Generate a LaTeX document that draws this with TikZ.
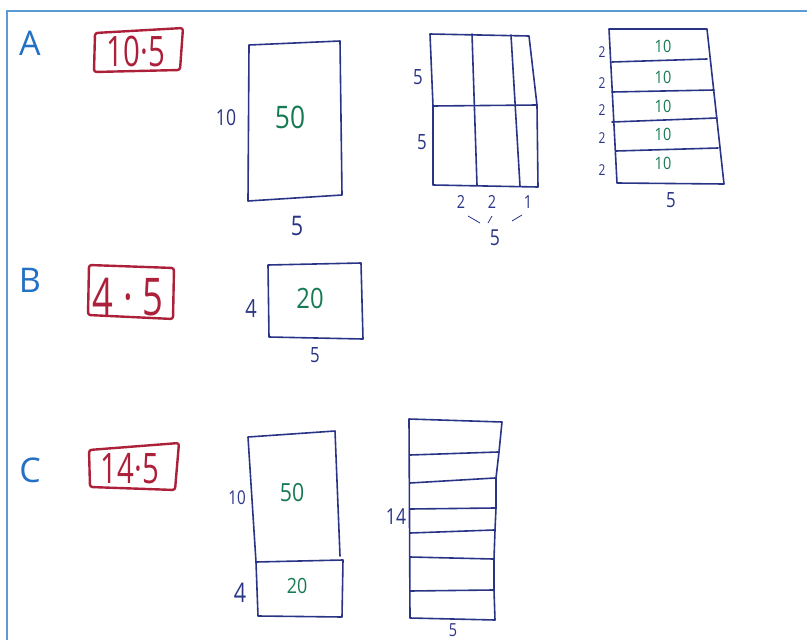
\documentclass[tikz,border=0pt]{standalone}
\usepackage{fontspec}
\setmainfont{Open Sans}
\usetikzlibrary{positioning,calc}
\definecolor{FrameBlue}{RGB}{91,155,213}
\definecolor{LetterBlue}{RGB}{35,112,196}
\definecolor{InkNavy}{RGB}{42,52,135}
\definecolor{InkGreen}{RGB}{22,122,82}
\definecolor{InkRed}{RGB}{172,32,58}
\tikzset{pen/.style={draw=InkNavy,line width=1.6pt,line join=round,line cap=round}, prod/.style={draw=InkRed,line width=2.4pt,rounded corners=2.5pt,line join=round}, part/.style={text=LetterBlue,font=\fontsize{34}{34}\selectfont,inner sep=0pt}, dim/.style={text=InkNavy,inner sep=0pt,xscale=0.8}, area/.style={text=InkGreen,inner sep=0pt,xscale=0.85}, prodtext/.style={text=InkRed,inner sep=0pt,xscale=0.7}}

\begin{document}
\begin{tikzpicture}[x=1pt,y=-1pt]
\useasboundingbox (0,0) rectangle (807,640);
\draw[draw=FrameBlue,line width=2pt] (7,640) -- (7,11) -- (807,11);
% A
\node[part] (la) at (30,43) {A};
\coordinate (ra1) at (95,33);
\coordinate (ra2) at (183,28);
\coordinate (ra3) at (180,70);
\coordinate (ra4) at (94,72);
\draw[prod] (ra1) -- (ra2) -- (ra3) -- (ra4) -- cycle;
\node[prodtext,font=\fontsize{42}{42}\selectfont] (pa) at (136,51) {10·5};
\coordinate (a1) at (249,45);
\coordinate (a2) at (340,41);
\coordinate (a3) at (342,195);
\coordinate (a4) at (248,201);
\draw[pen] (a1) -- (a2) -- (a3) -- (a4) -- cycle;
\node[dim,font=\fontsize{22}{22}\selectfont] (a10) at (226,118) {10};
\node[area,font=\fontsize{31}{31}\selectfont] (a50) at (290,117) {50};
\node[dim,font=\fontsize{27}{27}\selectfont] (a5) at (297,226) {5};
% A, split in parts
\coordinate (b1) at (430,34);
\coordinate (b2) at (529,36);
\coordinate (b3) at (537,105);
\coordinate (b4) at (538,187);
\coordinate (b5) at (433,185);
\coordinate (b6) at (433,106);
\draw[pen] (b1) -- (b2) -- (b3) -- (b4) -- (b5) -- (b6) -- cycle;
\draw[pen] (b6) -- (b3);
\draw[pen] (472,34) -- (477,185);
\draw[pen] (511,35) -- (520,186);
\node[dim,font=\fontsize{21}{21}\selectfont] (bl1) at (418,77) {5};
\node[dim,font=\fontsize{21}{21}\selectfont] (bl2) at (422,142) {5};
\node[dim,font=\fontsize{18}{18}\selectfont] (bw1) at (461,202) {2};
\node[dim,font=\fontsize{18}{18}\selectfont] (bw2) at (492,202) {2};
\node[dim,font=\fontsize{18}{18}\selectfont] (bw3) at (528,202) {1};
\node[dim,font=\fontsize{22}{22}\selectfont] (bw) at (495,238) {5};
\draw[draw=InkNavy,line width=0.8pt] (468,216) -- (480,223);
\draw[draw=InkNavy,line width=0.8pt] (492,216) -- (488,223);
\draw[draw=InkNavy,line width=0.8pt] (522,215) -- (512,221);
% A, five strips
\coordinate (s1) at (609,29);
\coordinate (s2) at (707,29);
\coordinate (s3) at (724,184);
\coordinate (s4) at (617,183);
\draw[pen] (s1) -- (s2) -- (s3) -- (s4) -- cycle;
\draw[pen] (612,62) -- (707,59);
\draw[pen] (612,92) -- (714,90);
\draw[pen] (612,122) -- (717,118);
\draw[pen] (616,151) -- (718,148);
\foreach \yy/\ty [count=\i] in {52/46,83/77,110/106,138/134,170/163}{
  \node[dim,font=\fontsize{15}{15}\selectfont] (sl\i) at (602,\yy) {2};
  \node[area,font=\fontsize{17}{17}\selectfont] (sa\i) at (663,\ty) {10};
}
\node[dim,font=\fontsize{21}{21}\selectfont] (sw) at (671,200) {5};
% B
\node[part] (lb) at (30,280) {B};
\coordinate (rb1) at (89,265);
\coordinate (rb2) at (174,268);
\coordinate (rb3) at (173,319);
\coordinate (rb4) at (88,315);
\draw[prod] (rb1) -- (rb2) -- (rb3) -- (rb4) -- cycle;
\node[prodtext,font=\fontsize{52}{52}\selectfont] (pb) at (128,297) {4 · 5};
\coordinate (c1) at (268,265);
\coordinate (c2) at (361,263);
\coordinate (c3) at (363,339);
\coordinate (c4) at (269,337);
\draw[pen] (c1) -- (c2) -- (c3) -- (c4) -- cycle;
\node[dim,font=\fontsize{25}{25}\selectfont] (c4l) at (251,309) {4};
\node[area,font=\fontsize{28}{28}\selectfont] (c20) at (310,298) {20};
\node[dim,font=\fontsize{21}{21}\selectfont] (c5) at (315,355) {5};
% C
\node[part] (lc) at (30,470) {C};
\coordinate (rc1) at (89,450);
\coordinate (rc2) at (179,443);
\coordinate (rc3) at (175,490);
\coordinate (rc4) at (90,487);
\draw[prod] (rc1) -- (rc2) -- (rc3) -- (rc4) -- cycle;
\node[prodtext,font=\fontsize{42}{42}\selectfont] (pc) at (130,469) {14·5};
\coordinate (d1) at (248,437);
\coordinate (d2) at (335,431);
\coordinate (d3) at (340,556);
\coordinate (d4) at (256,562);
\coordinate (d5) at (343,560);
\coordinate (d6) at (342,617);
\coordinate (d7) at (258,616);
\draw[pen] (d4) -- (d1) -- (d2) -- (d3);
\draw[pen] (d4) -- (d5) -- (d6) -- (d7) -- cycle;
\node[dim,font=\fontsize{19}{19}\selectfont] (d10) at (237,498) {10};
\node[area,font=\fontsize{25}{25}\selectfont] (d50) at (292,493) {50};
\node[dim,font=\fontsize{27}{27}\selectfont] (d4l) at (240,593) {4};
\node[area,font=\fontsize{21}{21}\selectfont] (d20) at (297,586) {20};
% C, fourteen as strips
\coordinate (e1) at (409,419);
\coordinate (e2) at (502,422);
\coordinate (e3) at (495,620);
\coordinate (e4) at (410,618);
\draw[pen] (e1) -- (e2) -- (499,452) -- (496,478) -- (496,508) -- (495,530) -- (494,559) -- (494,590) -- (e3) -- (e4) -- cycle;
\foreach \ya/\yb/\xb in {455/452/498,483/478/495,509/508/495,533/530/494,557/559/493,591/590/493}{
  \draw[pen] (410,\ya) -- (\xb,\yb);
}
\node[dim,font=\fontsize{22}{22}\selectfont] (e14) at (396,517) {14};
\node[dim,font=\fontsize{18}{18}\selectfont] (e5) at (453,630) {5};
\end{tikzpicture}
\end{document}
